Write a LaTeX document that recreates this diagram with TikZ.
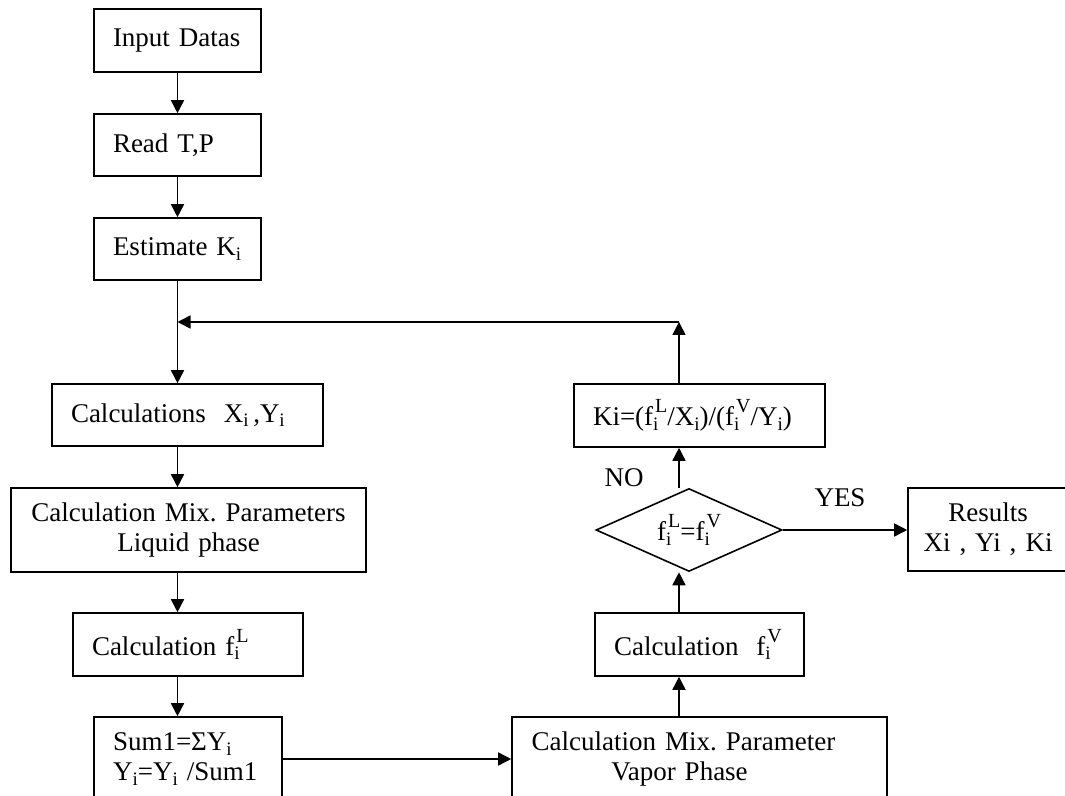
\documentclass[tikz,border=0pt]{standalone}
\usepackage{fontspec}
\setmainfont{Liberation Serif}
\usepackage{tikz}
\usetikzlibrary{arrows.meta, shapes.geometric}
\frenchspacing

% index i and phase letter, set small like the typed original
\newcommand{\idx}{\raisebox{-0.35ex}{\fontsize{9.5}{9.5}\selectfont i}}
\newcommand{\fph}[1]{f\rlap{\idx}\kern1pt\raisebox{1.05ex}{\fontsize{10}{10}\selectfont #1}}

\begin{document}
\begin{tikzpicture}[
        x=0.5pt, y=-0.5pt,
        every node/.style={font=\fontsize{13.5}{15}\selectfont},
        stepbox/.style={draw, line width=0.8pt, rectangle, inner xsep=9.5pt, inner ysep=0pt, align=left},
        midbox/.style={draw, line width=0.8pt, rectangle, inner xsep=6pt, inner ysep=0pt, align=center},
        test/.style={draw, line width=0.8pt, diamond, aspect=2.24, inner sep=0pt, minimum width=93pt, minimum height=41.5pt},
        flow/.style={line width=0.8pt, -{Triangle[length=6.5pt, width=6.5pt]}}
    ]
        \useasboundingbox (0,0) rectangle (1065,796);
        \clip (0,0) rectangle (1065,796);

        % Left column
        \node (input) [stepbox, text width=64.5pt, minimum height=31.5pt] at (177.5,40.5) {\mbox{Input Datas}};
        \node (read) [stepbox, text width=64.5pt, minimum height=31pt] at (177.5,145) {\mbox{Read T,P}};
        \node (estimate) [stepbox, text width=64.5pt, minimum height=31pt] at (177.5,249) {\mbox{Estimate K\idx}};
        \node (calcxy) [stepbox, text width=116.5pt, minimum height=31pt] at (187.5,415) {\mbox{Calculations~ X\idx\,,Y\idx}};
        \node (liquid) [midbox, text width=165.5pt, minimum height=42pt] at (188.5,530) {Calculation Mix. Parameters\\Liquid phase};
        \node (calcfl) [stepbox, text width=96pt, minimum height=31.5pt] at (188,644.5) {\mbox{Calculation \fph{L}}};
        \node (sum1) [stepbox, text width=75pt, minimum height=42pt] at (188,759) {\mbox{Sum1=ΣY\idx}\\\mbox{Y\idx=Y\idx\ /Sum1}};

        % Right column
        \node (vapor) [midbox, text width=175.5pt, minimum height=42pt] at (699.5,759) {Calculation Mix. Parameter\hspace*{16pt}\mbox{}\\Vapor Phase\hspace*{20pt}\mbox{}};
        \node (calcfv) [stepbox, text width=85.5pt, minimum height=31.5pt] at (699.5,644.5) {\mbox{Calculation~ \fph{V}}};
        \node (check) [test] at (689,530) {\fph{L}=\fph{V}};
        \node (kupd) [stepbox, text width=106.5pt, minimum height=31.5pt] at (699.5,415.5) {\mbox{Ki=(\fph{L}/X\idx)/(\fph{V}/Y\idx)}};
        \node (results) [midbox, text width=68pt, minimum height=41.5pt] at (988,529.5) {Results\\Xi , Yi , Ki};

        \coordinate (spine) at (679,322);

        % Forward path
        \draw [flow] (input) -- (read);
        \draw [flow] (read) -- (estimate);
        \draw [flow] (estimate.south) -- (estimate.south |- calcxy.north);
        \draw [flow] (calcxy.south -| estimate.south) -- (liquid.north -| estimate.south);
        \draw [flow] (liquid.south -| estimate.south) -- (calcfl.north -| estimate.south);
        \draw [flow] (calcfl.south -| estimate.south) -- (sum1.north -| estimate.south);
        \draw [flow] (sum1.east) -- (sum1.east -| vapor.west);
        \draw [flow] (vapor.north -| spine) -- (calcfv.south -| spine);
        \draw [flow] (calcfv.north -| spine) -- (check.south -| spine);

        % Convergence test
        \draw [flow] (check.north -| spine) -- node[pos=0.25, left=14pt] {NO} (kupd.south -| spine);
        \draw [flow] (check.east) -- node[midway, above=8pt, xshift=-2.5pt] {YES} (check.east -| results.west);

        % Loop back
        \draw [flow] (kupd.north -| spine) -- (spine);
        \draw [flow] (spine) -- (spine -| estimate.south);

    \end{tikzpicture}
\end{document}
